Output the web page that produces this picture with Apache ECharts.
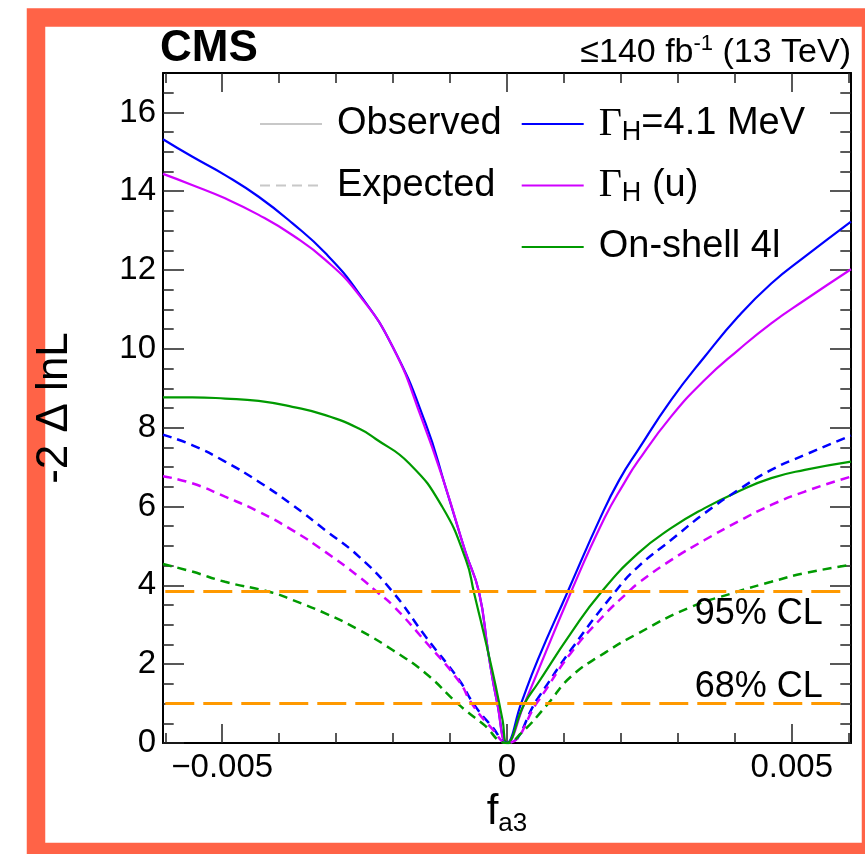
<!DOCTYPE html>
<html>
<head>
<meta charset="utf-8">
<script src="https://cdn.jsdelivr.net/npm/echarts@6/dist/echarts.min.js"></script>
<style>
  html, body { margin: 0; padding: 0; background: #ffffff; }
  #chart { width: 865px; height: 854px; }
</style>
</head>
<body>
<div id="chart"></div>
<script>
// ---- axis ticks and labels ----
const xMajorTicks = [-0.005, 0, 0.005];
const xTickLabels = ['\u22120.005', '0', '0.005'];
const xMinorTicks = [-0.006, -0.004, -0.003, -0.002, -0.001, 0.001, 0.002, 0.003, 0.004, 0.006];
const yMajorTicks = [0, 2, 4, 6, 8, 10, 12, 14, 16];
const yTickLabels = ['0', '2', '4', '6', '8', '10', '12', '14', '16'];
const yMinorTicks = [0.5, 1, 1.5, 2.5, 3, 3.5, 4.5, 5, 5.5, 6.5, 7, 7.5, 8.5, 9, 9.5,
                     10.5, 11, 11.5, 12.5, 13, 13.5, 14.5, 15, 15.5, 16.5];

// ---- likelihood scans: [f_a3, -2 Δ lnL] ----
// observed, Γ_H fixed to 4.1 MeV
const obsWidthFixed = [
  [-0.00604, 15.32], [-0.00553, 14.88], [-0.00495, 14.41], [-0.00436, 13.86], [-0.00377, 13.19],
  [-0.00319, 12.43], [-0.0026, 11.41], [-0.00201, 10.06], [-0.00143, 8.11], [-0.00108, 6.50],
  [-0.00073, 4.85], [-0.00049, 3.82], [-0.00033, 2.30], [-0.00017, 1.0], [0, 0],
  [0.00025, 1.01], [0.00054, 2.11], [0.00106, 3.82], [0.00165, 5.75], [0.00197, 6.67],
  [0.0023, 7.43], [0.00288, 8.70], [0.00347, 9.80], [0.00406, 10.82], [0.00464, 11.66],
  [0.00523, 12.34], [0.00604, 13.23]
];
// observed, Γ_H unconstrained
const obsWidthFree = [
  [-0.00604, 14.44], [-0.00553, 14.16], [-0.00495, 13.82], [-0.00436, 13.40], [-0.00377, 12.89],
  [-0.00319, 12.26], [-0.0026, 11.37], [-0.00201, 10.06], [-0.00149, 8.20], [-0.00108, 6.50],
  [-0.00073, 4.85], [-0.00049, 3.82], [-0.00033, 2.30], [-0.00017, 1.0], [0, 0],
  [0.0003, 0.98], [0.00112, 3.82], [0.00171, 5.70], [0.00206, 6.60], [0.0023, 7.15],
  [0.00288, 8.28], [0.00347, 9.21], [0.00406, 9.97], [0.00464, 10.65], [0.00523, 11.24],
  [0.00604, 12.02]
];
// observed, on-shell 4l only
const obsOnShell = [
  [-0.00604, 8.77], [-0.00553, 8.77], [-0.00495, 8.74], [-0.00436, 8.68], [-0.00377, 8.53],
  [-0.00319, 8.32], [-0.0026, 7.98], [-0.00231, 7.72], [-0.00172, 7.10], [-0.00114, 6.00],
  [-0.00072, 4.64], [-0.00058, 3.82], [-0.00026, 1.85], [-0.00008, 0.6], [0, 0],
  [0.0003, 0.98], [0.00054, 1.51], [0.00112, 2.78], [0.00165, 3.82], [0.0023, 4.81],
  [0.00288, 5.45], [0.00347, 5.96], [0.00406, 6.38], [0.00464, 6.72], [0.00523, 6.93],
  [0.00604, 7.14]
];
// expected, Γ_H fixed to 4.1 MeV
const expWidthFixed = [
  [-0.00604, 7.82], [-0.00553, 7.56], [-0.00495, 7.14], [-0.00436, 6.63], [-0.00377, 6.04],
  [-0.00319, 5.40], [-0.0026, 4.73], [-0.00201, 3.84], [-0.00143, 2.70], [-0.00084, 1.60],
  [-0.00058, 0.98], [-0.00026, 0.41], [0, 0],
  [0.00054, 1.13], [0.00112, 2.36], [0.00189, 3.82], [0.0023, 4.47], [0.00288, 5.15],
  [0.00347, 5.83], [0.00406, 6.42], [0.00464, 6.93], [0.00523, 7.31], [0.00604, 7.80]
];
// expected, Γ_H unconstrained
const expWidthFree = [
  [-0.00604, 6.77], [-0.00553, 6.59], [-0.00495, 6.25], [-0.00436, 5.87], [-0.00377, 5.40],
  [-0.00319, 4.85], [-0.0026, 4.22], [-0.00227, 3.82], [-0.00201, 3.50], [-0.00143, 2.57],
  [-0.00084, 1.56], [-0.00061, 0.98], [-0.00026, 0.36], [0, 0],
  [0.00054, 1.05], [0.00112, 2.28], [0.00171, 3.25], [0.00212, 3.82], [0.0023, 4.05],
  [0.00288, 4.64], [0.00347, 5.15], [0.00406, 5.62], [0.00464, 6.04], [0.00523, 6.38],
  [0.00604, 6.76]
];
// expected, on-shell 4l only
const expOnShell = [
  [-0.00604, 4.54], [-0.00553, 4.35], [-0.00495, 4.09], [-0.00413, 3.82], [-0.00377, 3.63],
  [-0.00319, 3.29], [-0.0026, 2.87], [-0.00201, 2.36], [-0.00143, 1.77], [-0.00085, 0.98],
  [-0.00042, 0.48], [0, 0],
  [0.00025, 0.25], [0.00071, 0.98], [0.00112, 1.68], [0.00171, 2.28], [0.0023, 2.78],
  [0.00318, 3.42], [0.004, 3.82], [0.00464, 4.09], [0.00523, 4.31], [0.00604, 4.52]
];

// confidence-level thresholds
const clValues = [3.84, 1.0];
const clLabels = ['95% CL', '68% CL'];

// legend entries
const legendStyleNames = ['Observed', 'Expected'];
const legendModelNames = ['\u0393H=4.1 MeV', '\u0393H (u)', 'On-shell 4l'];

const SANS = "'Liberation Sans', Arial, Helvetica, sans-serif";
const SERIF = "'Liberation Serif', 'Times New Roman', serif";
const BLUE = '#0000ff', VIOLET = '#d000ff', GREEN = '#009a00', ORANGE = '#ff9900', GRAY = '#c8c8c8';

const X_MIN = -0.00604, X_MAX = 0.00604;
const Y_MIN = 0, Y_MAX = 17;

function xAxisDef(position, ticks, len, withLabels, withLine) {
  return {
    type: 'value', position: position, min: X_MIN, max: X_MAX,
    axisLine: { show: withLine, onZero: false, lineStyle: { color: '#000', width: 2 } },
    axisTick: { show: true, inside: true, length: len, customValues: ticks,
                lineStyle: { color: '#222', width: 1.5 } },
    axisLabel: withLabels ? {
      show: true, customValues: ticks, margin: 8, color: '#000',
      fontFamily: SANS, fontSize: 33,
      formatter: v => xTickLabels[xMajorTicks.findIndex(t => Math.abs(t - v) < 1e-9)]
    } : { show: false },
    splitLine: { show: false }
  };
}
function yAxisDef(position, ticks, len, withLabels, withLine) {
  return {
    type: 'value', position: position, min: Y_MIN, max: Y_MAX,
    axisLine: { show: withLine, onZero: false, lineStyle: { color: '#000', width: 2 } },
    axisTick: { show: true, inside: true, length: len, customValues: ticks,
                lineStyle: { color: '#222', width: 1.5 } },
    axisLabel: withLabels ? {
      show: true, customValues: ticks, margin: 7, color: '#000',
      fontFamily: SANS, fontSize: 33,
      formatter: v => yTickLabels[yMajorTicks.indexOf(v)]
    } : { show: false },
    splitLine: { show: false }
  };
}

const xMain = xAxisDef('bottom', xMajorTicks, 19, true, true);
xMain.name = 'f{sub|a3}';
xMain.nameLocation = 'middle';
xMain.nameGap = 45;
xMain.nameTextStyle = {
  color: '#000', fontFamily: SANS, fontSize: 42, lineHeight: 48,
  rich: {
    sub: { fontFamily: SANS, fontSize: 26, lineHeight: 30, verticalAlign: 'bottom', color: '#000' }
  }
};
const yMain = yAxisDef('left', yMajorTicks, 21, true, true);
yMain.name = '-2 \u0394 lnL';
yMain.nameLocation = 'middle';
yMain.nameRotate = 90;
yMain.nameGap = 86;
yMain.nameTextStyle = { color: '#000', fontFamily: SANS, fontSize: 44 };

const legendRich = {
  g: { fontFamily: SERIF, fontSize: 40, lineHeight: 44, color: '#000' },
  sub: { fontFamily: SANS, fontSize: 27, lineHeight: 32, verticalAlign: 'bottom', color: '#000' },
  t: { fontFamily: SANS, fontSize: 38, lineHeight: 44, color: '#000' }
};
function legendFormatter(name) {
  if (name.charAt(0) === '\u0393') {
    return '{g|\u0393}{sub|H}{t|' + name.slice(2) + '}';
  }
  return '{t|' + name + '}';
}
function legendDef(names, left) {
  return {
    data: names, orient: 'vertical', left: left, top: 102, padding: 0,
    itemWidth: 62, itemHeight: 14, itemGap: 17.5, selectedMode: false,
    itemStyle: { opacity: 0 },
    formatter: legendFormatter,
    textStyle: { padding: [0, 0, 0, 10], lineHeight: 44, rich: legendRich }
  };
}

function curve(name, data, color, dashed) {
  return {
    name: name, type: 'line', data: data, xAxisIndex: 0, yAxisIndex: 0,
    symbol: 'none', smooth: 0.5, color: color, z: 3,
    lineStyle: { color: color, width: dashed ? 2.5 : 2.2, type: dashed ? [9, 6] : 'solid' },
    emphasis: { disabled: true }
  };
}

const option = {
  backgroundColor: '#ffffff',
  animation: false,
  graphic: [{
    type: 'rect', z: -10, silent: true,
    shape: { x: 36, y: 17.5, width: 835, height: 834.5 },
    style: { fill: '#ffffff', stroke: '#ff6347', lineWidth: 18.5 }
  }],
  title: [
    { text: 'CMS', left: 160, top: 27, padding: 0,
      textStyle: { fontFamily: SANS, fontWeight: 'bold', fontSize: 44, lineHeight: 44, color: '#000' } },
    { text: '{t|\u2264140 fb}{sup|-1}{t| (13 TeV)}', right: 14, top: 33, padding: 0,
      textStyle: { fontWeight: 'normal', rich: {
        t: { fontFamily: SANS, fontWeight: 'normal', fontSize: 34, lineHeight: 39, color: '#000' },
        sup: { fontFamily: SANS, fontWeight: 'normal', fontSize: 22, lineHeight: 27, verticalAlign: 'top', color: '#000' }
      } } }
  ],
  grid: { left: 163, right: 14, top: 73, bottom: 111, containLabel: false },
  xAxis: [
    xMain,
    xAxisDef('bottom', xMinorTicks, 10, false, false),
    xAxisDef('top', xMajorTicks, 19, false, true),
    xAxisDef('top', xMinorTicks, 10, false, false)
  ],
  yAxis: [
    yMain,
    yAxisDef('left', yMinorTicks, 10.7, false, false),
    yAxisDef('right', yMajorTicks, 21, false, true),
    yAxisDef('right', yMinorTicks, 10.7, false, false)
  ],
  legend: [
    legendDef(legendStyleNames, 259),
    legendDef(legendModelNames, 520.7)
  ],
  series: [
    { name: 'Observed', type: 'line', data: [], symbol: 'none', color: GRAY,
      lineStyle: { color: GRAY, width: 2, type: 'solid' } },
    { name: 'Expected', type: 'line', data: [], symbol: 'none', color: GRAY,
      lineStyle: { color: GRAY, width: 2, type: [10, 6] } },
    {
      name: 'CL thresholds', type: 'line', data: [], symbol: 'none', z: 1,
      markLine: {
        silent: true, symbol: 'none', animation: false,
        lineStyle: { color: ORANGE, width: 3, type: [29, 9] },
        data: clValues.map((v, i) => [
          { coord: [-0.006, v],
            label: {
              show: true, formatter: clLabels[i], color: '#000', fontFamily: SANS, fontSize: 36,
              position: i === 0 ? 'insideEndBottom' : 'insideEndTop',
              distance: i === 0 ? [26, 4] : [26, -1]
            } },
          { coord: [0.006, v] }
        ])
      }
    },
    curve(legendModelNames[0], obsWidthFixed, BLUE, false),
    curve(legendModelNames[1], obsWidthFree, VIOLET, false),
    curve(legendModelNames[2], obsOnShell, GREEN, false),
    curve('\u0393H=4.1 MeV expected', expWidthFixed, BLUE, true),
    curve('\u0393H (u) expected', expWidthFree, VIOLET, true),
    curve('On-shell 4l expected', expOnShell, GREEN, true)
  ]
};

const chart = echarts.init(document.getElementById('chart'), null, { renderer: 'canvas' });
chart.setOption(option);
</script>
</body>
</html>
